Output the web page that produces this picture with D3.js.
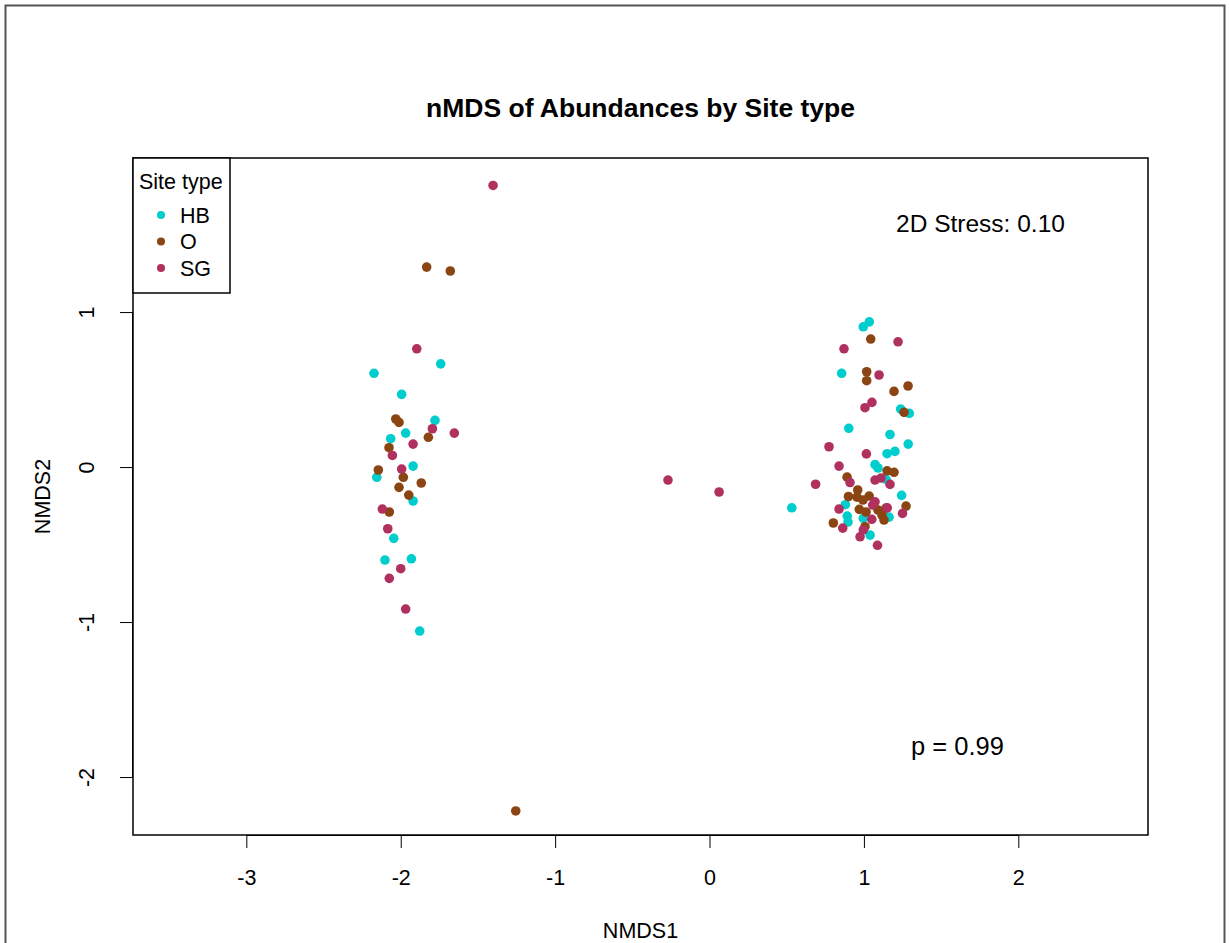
<!DOCTYPE html>
<html><head><meta charset="utf-8">
<script src="https://cdn.jsdelivr.net/npm/d3@7"></script>
<style>
html,body{margin:0;padding:0;background:#fff;}
svg{display:block;font-family:"Liberation Sans",Arial,sans-serif;}
</style></head>
<body><svg id="chart" width="1229" height="943"></svg>
<script>
const categories = ["HB", "O", "SG"];
const colors = ["#00CDCD", "#8B4513", "#B03060"];
const xTicks = [-3, -2, -1, 0, 1, 2];
const yTicks = [-2, -1, 0, 1];

const hbX = [-1.741,-2.173,-1.994,-1.778,-1.968,-2.065,-1.920,-2.155,-1.920,-2.045,-2.102,-1.931,-1.877,
  0.996,1.035,0.856,1.238,1.294,0.902,1.169,1.287,1.150,1.201,1.072,1.091,1.143,1.244,0.533,0.880,0.892,0.897,0.996,1.040,1.163];
const hbY = [0.666,0.605,0.469,0.301,0.219,0.183,0.006,-0.066,-0.219,-0.460,-0.600,-0.592,-1.058,
  0.905,0.937,0.605,0.374,0.346,0.250,0.210,0.148,0.086,0.101,0.016,-0.006,-0.079,-0.183,-0.263,-0.243,-0.316,-0.355,-0.331,-0.439,-0.323];

const oX = [-1.832,-1.679,-2.032,-2.011,-1.821,-2.076,-2.145,-1.983,-2.011,-1.867,-1.948,-2.074,-1.255,
  1.044,1.018,1.018,1.286,1.195,1.260,1.150,1.195,0.891,0.960,0.900,0.970,0.802,1.273,1.007,
  0.955,0.994,1.034,1.091,1.117,1.130,1.014,1.143];
const oY = [1.290,1.265,0.310,0.288,0.192,0.125,-0.019,-0.066,-0.131,-0.103,-0.181,-0.290,-2.219,
  0.826,0.615,0.557,0.523,0.488,0.353,-0.024,-0.034,-0.065,-0.148,-0.190,-0.273,-0.361,-0.252,-0.385,
  -0.194,-0.213,-0.187,-0.277,-0.310,-0.342,-0.290,-0.265];

const sgX = [-1.402,-1.896,-1.795,-1.653,-1.920,-2.054,-1.994,-2.119,-2.084,-2.000,-2.074,-1.968,
  -0.269,0.062,
  1.221,0.871,1.098,1.052,1.007,0.774,1.016,0.839,0.687,0.910,1.072,1.111,1.169,0.839,0.863,0.975,1.088,1.250,1.151,1.072,1.057,1.051,0.996];
const sgY = [1.817,0.763,0.247,0.219,0.148,0.075,-0.013,-0.271,-0.398,-0.656,-0.718,-0.916,
  -0.084,-0.161,
  0.808,0.763,0.594,0.417,0.383,0.131,0.085,0.006,-0.111,-0.100,-0.084,-0.071,-0.112,-0.271,-0.394,-0.450,-0.505,-0.299,-0.263,-0.224,-0.245,-0.337,-0.406];

const seriesX = [hbX, oX, sgX];
const seriesY = [hbY, oY, sgY];

const titleText = "nMDS of Abundances by Site type";
const stressText = "2D Stress: 0.10";
const pText = "p = 0.99";

const svg = d3.select("#chart");
const L = 133, R = 1148, T = 158, B = 835;
const x = d3.scaleLinear().domain([-3.734, 2.840]).range([L, R]);
const y = d3.scaleLinear().domain([-2.374, 1.994]).range([B, T]);
const fmt = d => String(d);

// outer frame
svg.append("rect").attr("x", 5.5).attr("y", 5.5).attr("width", 1219).attr("height", 960)
  .attr("fill", "none").attr("stroke", "#555").attr("stroke-width", 2);

// title
svg.append("text").attr("x", (L + R) / 2).attr("y", 117).attr("text-anchor", "middle")
  .attr("font-weight", "bold").attr("font-size", 26.5).text(titleText);

// axes
const fs = 21.5;
const xAxis = svg.append("g").attr("transform", `translate(0,${B})`)
  .call(d3.axisBottom(x).tickValues(xTicks).tickSize(13).tickPadding(22).tickFormat(fmt));
xAxis.select(".domain").attr("d", `M${x(-3)},0.5H${x(2)}`).attr("stroke", "#000");
xAxis.selectAll("text").attr("font-size", fs).attr("font-family", "Liberation Sans, Arial, sans-serif").attr("fill","#000");
xAxis.selectAll("line").attr("stroke", "#000");

const yAxis = svg.append("g").attr("transform", `translate(${L},0)`)
  .call(d3.axisLeft(y).tickValues(yTicks).tickSize(13).tickFormat(fmt));
yAxis.select(".domain").attr("d", `M-0.5,${y(-2)}V${y(1)}`).attr("stroke", "#000");
yAxis.selectAll("line").attr("stroke", "#000");
yAxis.selectAll("text").attr("font-size", fs).attr("font-family", "Liberation Sans, Arial, sans-serif").attr("fill","#000")
  .attr("x", null).attr("dy", null)
  .attr("text-anchor", "middle")
  .attr("transform", "translate(-47,0) rotate(-90)")
  .attr("dy", "0.35em");

// axis labels
svg.append("text").attr("x", (L + R) / 2).attr("y", 938).attr("text-anchor", "middle")
  .attr("font-size", fs).text("NMDS1");
svg.append("text").attr("transform", `translate(50,${(T + B) / 2}) rotate(-90)`).attr("text-anchor", "middle")
  .attr("font-size", fs).text("NMDS2");

// plot box
svg.append("rect").attr("x", L).attr("y", T).attr("width", R - L).attr("height", B - T)
  .attr("fill", "none").attr("stroke", "#000").attr("stroke-width", 1.5);

// points
categories.forEach((c, i) => {
  const pts = seriesX[i].map((v, j) => [v, seriesY[i][j]]);
  svg.append("g").selectAll("circle").data(pts).join("circle")
    .attr("cx", d => x(d[0])).attr("cy", d => y(d[1])).attr("r", 4.8)
    .attr("fill", colors[i]);
});

// annotations
svg.append("text").attr("x", 980.5).attr("y", 232).attr("text-anchor", "middle").attr("font-size", 24.5).text(stressText);
svg.append("text").attr("x", 957.5).attr("y", 755).attr("text-anchor", "middle").attr("font-size", 25.5).text(pText);

// legend
const lg = svg.append("g");
lg.append("rect").attr("x", L).attr("y", T).attr("width", 97).attr("height", 135)
  .attr("fill", "#fff").attr("stroke", "#000").attr("stroke-width", 1.5);
lg.append("text").attr("x", 139).attr("y", 189).attr("font-size", fs).text("Site type");
categories.forEach((c, i) => {
  const yy = 215 + i * 26.5;
  lg.append("circle").attr("cx", 161).attr("cy", yy).attr("r", 4).attr("fill", colors[i]);
  lg.append("text").attr("x", 180).attr("y", yy).attr("dy", "0.36em").attr("font-size", fs).text(c);
});
</script></body></html>
